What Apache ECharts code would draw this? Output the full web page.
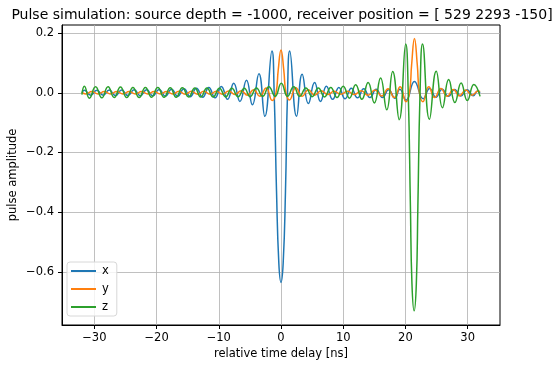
<!DOCTYPE html>
<html style="height: 100%">
   <head>
       <meta charset="utf-8">
   </head>
   <body style="height: 100%; margin: 0">
       <div id="container" style="width: 555px; height: 366px"></div>
       <script type="text/javascript" src="https://cdn.jsdelivr.net/npm/echarts@6/dist/echarts.min.js"></script>
       <script type="text/javascript">
// [time (ns), amplitude] read at the peaks, troughs and zero crossings of each trace
var pulseX = [
    [-32, 0], [-31.6, 0.008], [-30.6, -0.008], [-29.6, 0.008], [-28.6, -0.008], [-27.6, 0.009],
    [-26.6, -0.009], [-25.6, 0.009], [-24.6, -0.009], [-23.6, 0.01], [-22.6, -0.01], [-21.6, 0.01],
    [-20.6, -0.01], [-19.6, 0.011], [-18.6, -0.011], [-17.6, 0.012], [-16.6, -0.012], [-15.6, 0.013],
    [-14.6, -0.013], [-13.6, 0.015], [-12.6, -0.015], [-11.6, 0.018], [-10.6, -0.017], [-9.6, 0.021],
    [-8.6, -0.022], [-7.6, 0.032], [-6.6, -0.029], [-5.55, 0.042], [-4.6, -0.04], [-3.55, 0.064],
    [-2.6, -0.079], [-1.45, 0.14], [-1.1, 0], [-0.72, -0.33], [-0.35, -0.57], [0, -0.635],
    [0.35, -0.57], [0.72, -0.33], [1.05, 0], [1.4, 0.14], [2.5, -0.079], [3.4, 0.062],
    [4.4, -0.036], [5.4, 0.034], [6.35, -0.029], [7.3, 0.022], [8.3, -0.022], [9.3, 0.018],
    [10.3, -0.02], [11.3, 0.015], [12.3, -0.017], [13.3, 0.013], [14.3, -0.016], [15.3, 0.012],
    [16.3, -0.016], [17.3, 0.01], [18.3, -0.018], [19.1, 0.012], [20.1, -0.025], [21.45, 0.038],
    [22.85, -0.02], [23.9, 0.014], [24.9, -0.015], [25.9, 0.012], [26.9, -0.012], [27.9, 0.011],
    [28.9, -0.011], [29.9, 0.01], [30.9, -0.01], [31.6, 0.006], [32, 0]
];
var pulseY = [
    [-32, 0.002], [-31.4, -0.004], [-30.4, 0.004], [-29.4, -0.004], [-28.4, 0.004], [-27.4, -0.004],
    [-26.4, 0.004], [-25.4, -0.004], [-24.4, 0.004], [-23.4, -0.004], [-22.4, 0.004], [-21.4, -0.004],
    [-20.4, 0.004], [-19.4, -0.004], [-18.4, 0.004], [-17.4, -0.004], [-16.4, 0.005], [-15.4, -0.005],
    [-14.4, 0.005], [-13.4, -0.005], [-12.4, 0.005], [-11.4, -0.005], [-10.4, 0.005], [-9.4, -0.005],
    [-8.4, 0.006], [-7.4, -0.006], [-6.4, 0.007], [-5.4, -0.008], [-4.4, 0.01], [-3.4, -0.012],
    [-2.4, 0.016], [-1.4, -0.026], [-0.8, 0], [-0.45, 0.075], [0, 0.143], [0.45, 0.075], [0.8, 0],
    [1.35, -0.024], [2.4, 0.017], [3.4, -0.012], [4.4, 0.01], [5.4, -0.008], [6.45, 0.007],
    [7.5, -0.006], [8.55, 0.005], [9.6, -0.005], [10.7, 0.005], [11.8, -0.006], [12.9, 0.007],
    [14.0, -0.008], [15.1, 0.009], [16.2, -0.011], [17.2, 0.013], [18.2, -0.016], [19.15, 0.02],
    [20.1, -0.03], [20.65, 0], [21.0, 0.095], [21.45, 0.182], [21.9, 0.095], [22.25, 0],
    [22.8, -0.03], [23.75, 0.02], [24.7, -0.016], [25.7, 0.014], [26.7, -0.012], [27.7, 0.011],
    [28.7, -0.01], [29.7, 0.009], [30.7, -0.008], [31.7, 0.006], [32, 0.004]
];
var pulseZ = [
    [-32, -0.006], [-31.6, 0.022], [-30.8, -0.018], [-29.8, 0.02], [-28.8, -0.017], [-27.8, 0.02],
    [-26.8, -0.016], [-25.8, 0.019], [-24.8, -0.016], [-23.8, 0.018], [-22.8, -0.016], [-21.8, 0.018],
    [-20.8, -0.015], [-19.8, 0.018], [-18.8, -0.015], [-17.8, 0.017], [-16.85, -0.015], [-15.85, 0.017],
    [-14.85, -0.014], [-13.85, 0.016], [-12.9, -0.014], [-11.9, 0.016], [-10.9, -0.014], [-9.9, 0.015],
    [-8.9, -0.014], [-7.9, 0.015], [-6.9, -0.013], [-5.9, 0.015], [-4.95, -0.013], [-3.95, 0.016],
    [-2.95, -0.012], [-1.95, 0.02], [-0.95, -0.012], [0.05, 0.032], [1.05, -0.012], [2.05, 0.02],
    [3.0, -0.012], [4.0, 0.016], [5.0, -0.013], [6.0, 0.016], [7.0, -0.014], [8.0, 0.018],
    [9.0, -0.016], [10.0, 0.022], [11.0, -0.018], [12.0, 0.027], [13.0, -0.022], [14.0, 0.034],
    [15.0, -0.034], [16.0, 0.049], [17.0, -0.057], [17.95, 0.071], [19.0, -0.09], [20.05, 0.163],
    [20.45, 0], [20.8, -0.38], [21.05, -0.64], [21.4, -0.73], [21.75, -0.64], [22.0, -0.38],
    [22.35, 0], [22.75, 0.163], [23.85, -0.089], [24.95, 0.072], [25.95, -0.05], [26.95, 0.044],
    [27.95, -0.033], [28.95, 0.033], [29.95, -0.026], [31.0, 0.028], [32, -0.012]
];
var seriesNames = ['x', 'y', 'z'];
var seriesColors = ['#1f77b4', '#ff7f0e', '#2ca02c'];
var xTicks = [-30, -20, -10, 0, 10, 20, 30];
var yTicks = [-0.6, -0.4, -0.2, 0.0, 0.2];

var dom = document.getElementById("container");
var myChart = echarts.init(dom);
var font = 'DejaVu Sans';

function minus(s) {
    return String(s).replace('-', '\u2212');
}

var option = {
    animation: false,
    backgroundColor: '#fff',
    title: {
        text: 'Pulse simulation: source depth = -1000, receiver position = [ 529 2293 -150]',
        left: 277,
        textAlign: 'center',
        top: 3,
        textStyle: {fontFamily: font, fontSize: 14, fontWeight: 'normal', color: '#000'}
    },
    legend: {
        data: seriesNames,
        orient: 'vertical',
        left: 67,
        top: 262,
        padding: [3, 8, 3, 4],
        itemGap: 6,
        itemWidth: 25,
        itemHeight: 2,
        icon: 'rect',
        borderColor: '#d8d8d8',
        borderWidth: 1,
        borderRadius: 3,
        backgroundColor: 'rgba(255,255,255,0.8)',
        textStyle: {fontFamily: font, fontSize: 11.5, color: '#000', padding: [0, 0, 0, 1]}
    },
    grid: {
        left: 62,
        right: 55,
        top: 25,
        bottom: 41,
        outerBoundsMode: 'none',
        containLabel: false,
        show: true,
        borderColor: '#000',
        borderWidth: 1
    },
    xAxis: {
        type: 'value',
        min: -35.2,
        max: 35.2,
        splitNumber: 7,
        name: 'relative time delay [ns]',
        nameLocation: 'middle',
        nameGap: 23,
        nameMoveOverlap: false,
        nameTextStyle: {fontFamily: font, fontSize: 11.5, color: '#000'},
        axisLine: {onZero: false, lineStyle: {color: '#000'}},
        axisTick: {customValues: xTicks, length: 4, lineStyle: {color: '#000'}},
        axisLabel: {
            customValues: xTicks,
            margin: 7,
            fontFamily: font, fontSize: 11.5, color: '#000',
            formatter: function (v) { return minus(v); }
        },
        splitLine: {show: true, lineStyle: {color: '#b0b0b0', width: 0.8}}
    },
    yAxis: {
        type: 'value',
        min: -0.7774,
        max: 0.2268,
        splitNumber: 5,
        name: 'pulse amplitude',
        nameLocation: 'middle',
        nameGap: 43,
        nameMoveOverlap: false,
        nameTextStyle: {fontFamily: font, fontSize: 11.5, color: '#000'},
        axisLine: {onZero: false, lineStyle: {color: '#000'}},
        axisTick: {customValues: yTicks, length: 4, lineStyle: {color: '#000'}},
        axisLabel: {
            customValues: yTicks,
            margin: 8,
            fontFamily: font, fontSize: 11.5, color: '#000',
            formatter: function (v) { return minus(v.toFixed(1)); }
        },
        splitLine: {show: true, lineStyle: {color: '#b0b0b0', width: 0.8}}
    },
    series: [pulseX, pulseY, pulseZ].map(function (d, i) {
        return {
            name: seriesNames[i],
            type: 'line',
            data: d,
            smooth: 0.5,
            showSymbol: false,
            color: seriesColors[i],
            lineStyle: {width: 1.5, color: seriesColors[i]}
        };
    })
};

myChart.setOption(option);
       </script>
   </body>
</html>
